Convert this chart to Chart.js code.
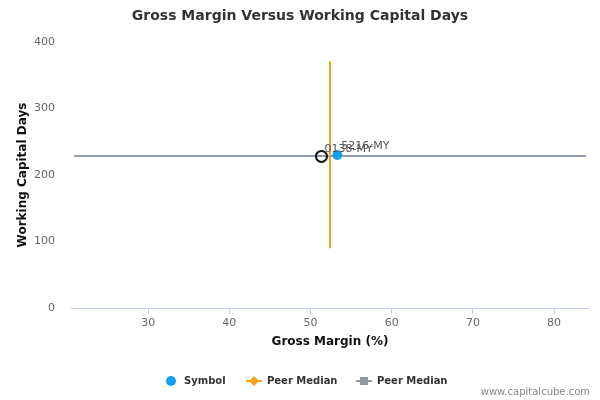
<!DOCTYPE html>
<html>
<head>
<meta charset="utf-8">
<script src="https://cdn.jsdelivr.net/npm/chart.js@4"></script>
<style>
html,body{margin:0;padding:0;background:#fff;}
#wrap{width:600px;height:400px;position:relative;}
</style>
</head>
<body>
<div id="wrap"><canvas id="c" width="600" height="400"></canvas></div>
<script>
// ---- data ----
const symbolLabel = "5216-MY";
const symbolPoint = [53.3, 230];
const peerLabel = "0138-MY";
const peerPoint = [51.35, 228];
const peerMedianX = [52.4, 52.4];
const peerMedianXRange = [90, 371];
const peerMedianY = [228.6, 228.6];
const peerMedianYRange = [20.9, 83.9];
const xTicks = [30, 40, 50, 60, 70, 80];
const yTicks = [0, 100, 200, 300, 400];
const xRange = [20.5, 84.3];
const yRange = [0, 400];
const legendNames = ["Symbol", "Peer Median", "Peer Median"];

const FONT = "'DejaVu Sans', Verdana, sans-serif";

const pointLabels = {
  id: 'pointLabels',
  afterDatasetsDraw(chart) {
    const ctx = chart.ctx;
    const xs = chart.scales.x, ys = chart.scales.y;
    ctx.save();
    ctx.font = "11px " + FONT;
    ctx.fillStyle = "#555";
    ctx.textBaseline = "middle";
    ctx.textAlign = "left";
    ctx.fillText(symbolLabel, xs.getPixelForValue(symbolPoint[0]) + 4, ys.getPixelForValue(symbolPoint[1]) - 9);
    ctx.fillText(peerLabel, xs.getPixelForValue(peerPoint[0]) + 3, ys.getPixelForValue(peerPoint[1]) - 7);
    ctx.restore();
  }
};

const extras = {
  id: 'extras',
  afterDraw(chart) {
    const ctx = chart.ctx;
    ctx.save();
    // title
    ctx.font = "bold 14px " + FONT;
    ctx.fillStyle = "#333";
    ctx.textAlign = "center";
    ctx.textBaseline = "middle";
    ctx.fillText("Gross Margin Versus Working Capital Days", 300, 16);
    // legend
    const ly = 381;
    ctx.font = "bold 10px " + FONT;
    ctx.textAlign = "left";
    // symbol
    ctx.beginPath();
    ctx.arc(171, ly, 5, 0, Math.PI * 2);
    ctx.fillStyle = "#139ff0";
    ctx.fill();
    ctx.fillStyle = "#333";
    ctx.fillText(legendNames[0], 184, ly);
    // orange
    ctx.strokeStyle = "#f7a21d";
    ctx.lineWidth = 2;
    ctx.beginPath(); ctx.moveTo(246, ly); ctx.lineTo(262, ly); ctx.stroke();
    ctx.fillStyle = "#f7a21d";
    ctx.beginPath(); ctx.moveTo(254, ly - 5); ctx.lineTo(259, ly); ctx.lineTo(254, ly + 5); ctx.lineTo(249, ly); ctx.closePath(); ctx.fill();
    ctx.fillStyle = "#333";
    ctx.fillText(legendNames[1], 267, ly);
    // gray
    ctx.strokeStyle = "#9299a6";
    ctx.beginPath(); ctx.moveTo(356, ly); ctx.lineTo(372, ly); ctx.stroke();
    ctx.fillStyle = "#9299a6";
    ctx.fillRect(360, ly - 4, 8, 8);
    ctx.fillStyle = "#333";
    ctx.fillText(legendNames[2], 377, ly);
    // credit
    ctx.font = "10px " + FONT;
    ctx.fillStyle = "#888";
    ctx.textAlign = "right";
    ctx.fillText("www.capitalcube.com", 590, 392);
    ctx.restore();
  }
};

new Chart(document.getElementById('c'), {
  type: 'scatter',
  data: {
    datasets: [
      {
        label: legendNames[0],
        data: [{x: symbolPoint[0], y: symbolPoint[1]}],
        backgroundColor: '#139ff0',
        borderColor: '#139ff0',
        pointRadius: 5,
        pointBorderWidth: 0
      },
      {
        label: peerLabel,
        data: [{x: peerPoint[0], y: peerPoint[1]}],
        backgroundColor: 'rgba(255,255,255,0)',
        borderColor: '#111',
        pointRadius: 5.5,
        pointBorderWidth: 2
      },
      {
        label: legendNames[1],
        data: peerMedianX.map((x, i) => ({x: x, y: peerMedianXRange[i]})),
        showLine: true,
        borderColor: '#f7a21d',
        backgroundColor: '#f7a21d',
        borderWidth: 2,
        pointRadius: 0
      },
      {
        label: legendNames[2],
        data: peerMedianYRange.map((x, i) => ({x: x, y: peerMedianY[i]})),
        showLine: true,
        borderColor: '#9299a6',
        backgroundColor: '#9299a6',
        borderWidth: 2,
        pointRadius: 0
      }
    ]
  },
  options: {
    responsive: false,
    animation: false,
    layout: { padding: { top: 42, right: 11, bottom: 51, left: 0 } },
    plugins: {
      legend: { display: false },
      tooltip: { enabled: false },
      title: { display: false }
    },
    scales: {
      x: {
        type: 'linear',
        min: xRange[0], max: xRange[1],
        afterBuildTicks: s => { s.ticks = xTicks.map(v => ({value: v})); },
        afterFit: s => { s.height = 41; },
        border: { display: true, color: '#c0d0e0', width: 1 },
        grid: { display: true, drawOnChartArea: false, drawTicks: true, tickLength: 6, color: '#c0d0e0' },
        ticks: { color: '#666', font: { family: FONT, size: 11 }, padding: 3, maxRotation: 0 },
        title: { display: true, text: 'Gross Margin (%)', color: '#111', font: { family: FONT, size: 12, weight: 'bold' }, padding: { top: 4, bottom: 0 } }
      },
      y: {
        type: 'linear',
        min: yRange[0], max: yRange[1],
        afterBuildTicks: s => { s.ticks = yTicks.map(v => ({value: v})); },
        afterFit: s => { s.width = 71; },
        border: { display: false },
        grid: { display: false, drawTicks: false },
        ticks: { color: '#666', font: { family: FONT, size: 11 }, padding: 16 },
        title: { display: true, text: 'Working Capital Days', color: '#111', font: { family: FONT, size: 12, weight: 'bold' }, padding: { top: 16, bottom: 4 } }
      }
    }
  },
  plugins: [pointLabels, extras]
});
</script>
</body>
</html>
